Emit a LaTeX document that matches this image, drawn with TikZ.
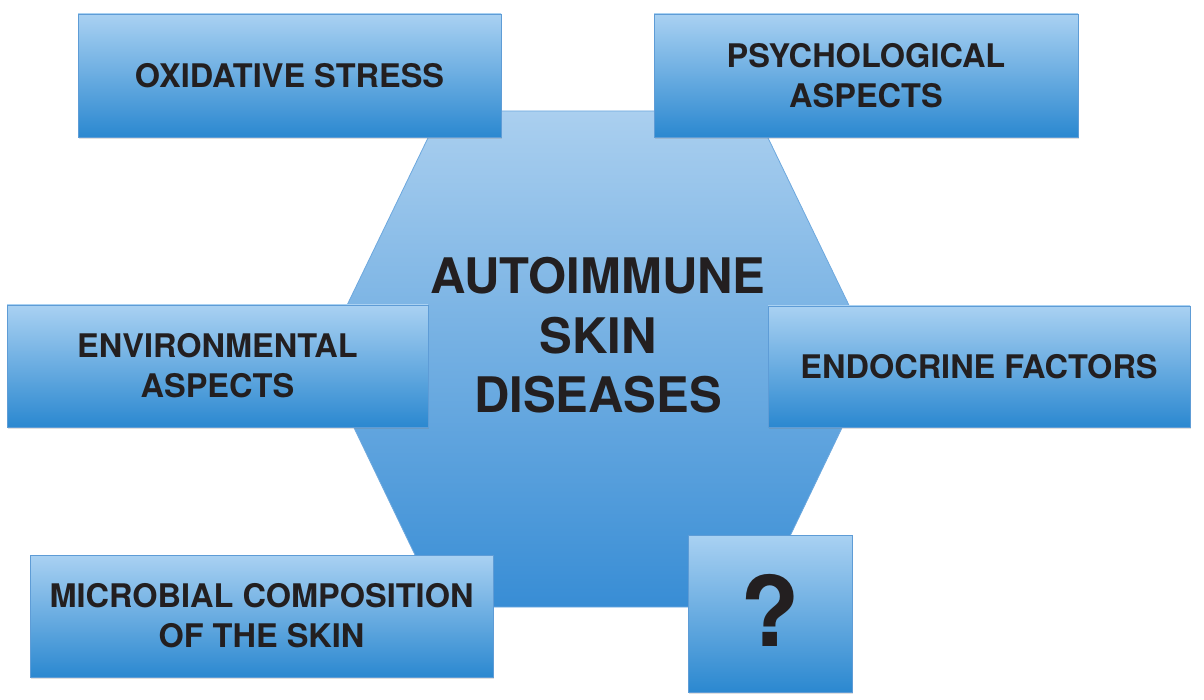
\documentclass[tikz,border=0pt]{standalone}
\usepackage{fontspec}
\setmainfont{TeX Gyre Heros}
\usetikzlibrary{shadows}
\definecolor{boxtop}{HTML}{A9D1F2}
\definecolor{boxmid}{HTML}{6AAEE5}
\definecolor{boxbot}{HTML}{2B88D0}
\definecolor{boxedge}{HTML}{5E9CD6}
\definecolor{hextop}{HTML}{AACFEF}
\definecolor{hexmid}{HTML}{7DB6E7}
\definecolor{hexbot}{HTML}{388DD5}
\definecolor{hexedge}{HTML}{6DA8DE}
\definecolor{ink}{HTML}{231F20}
\tikzset{
  factor/.style={draw=boxedge, line width=0.6pt, top color=boxtop, middle color=boxmid, bottom color=boxbot,
    align=center, text=ink, inner sep=0pt, font=\fontsize{32.5}{40}\selectfont\bfseries,
    drop shadow={opacity=0.25, shadow xshift=1.2pt, shadow yshift=-2.2pt}},
  hexshape/.style={draw=hexedge, line width=0.8pt, top color=hextop, middle color=hexmid, bottom color=hexbot},
  title/.style={align=center, text=ink, inner sep=0pt, font=\fontsize{49}{59.5}\selectfont\bfseries}
}
\begin{document}
\begin{tikzpicture}[x=1pt, y=-1pt]
\useasboundingbox (0,0) rectangle (1204,700);
% central hexagon
\path[hexshape] (441,111) -- (755,111) -- (875,359) -- (756,607) -- (440,607) -- (321,359) -- cycle;
\node[title] (center) at (598,335.5) {AUTOIMMUNE\\SKIN\\DISEASES};
% factor boxes
\node[factor, minimum width=423pt, minimum height=123pt] (oxid) at (289.5,75.5) {OXIDATIVE STRESS};
\node[factor, minimum width=424pt, minimum height=123pt] (psych) at (866,75.5) {PSYCHOLOGICAL\\ASPECTS};
\node[factor, minimum width=421pt, minimum height=122pt] (env) at (217.5,366) {ENVIRONMENTAL\\ASPECTS};
\node[factor, minimum width=422pt, minimum height=121pt] (endo) at (979,366.5) {ENDOCRINE FACTORS};
\node[factor, minimum width=463pt, minimum height=122pt] (micro) at (261.5,616) {MICROBIAL COMPOSITION\\OF THE SKIN};
\node[factor, minimum width=164pt, minimum height=157pt, font=\fontsize{97}{100}\selectfont\bfseries] (unknown) at (770,613.5) {\raisebox{6pt}{?}};
\end{tikzpicture}
\end{document}
